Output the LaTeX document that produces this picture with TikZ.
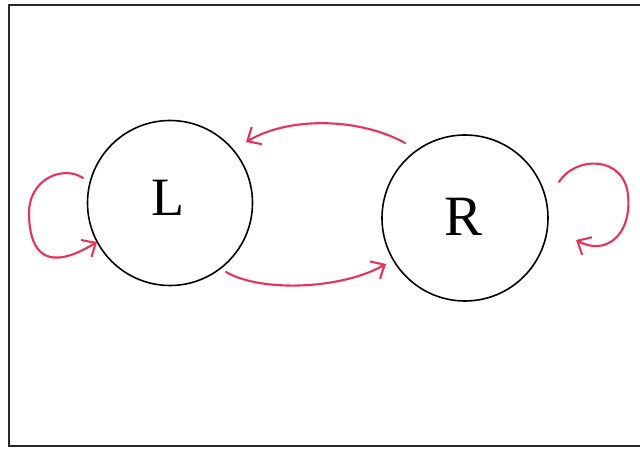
\documentclass[tikz,border=0pt]{standalone}
\usepackage{fontspec}
\setmainfont{Liberation Serif}
\usetikzlibrary{arrows.meta}
\definecolor{pen}{RGB}{232,50,88}
\definecolor{frame}{RGB}{40,40,40}
\tikzset{
  state/.style={circle,draw=black,line width=1.6pt,minimum size=165pt,inner sep=0pt},
  redarrow/.style={draw=pen,line width=2.1pt,line cap=round,-{Straight Barb[length=11pt,width=20pt,line width=2.1pt]}},
}
\begin{document}
\begin{tikzpicture}[x=1pt,y=-1pt]
\useasboundingbox (0,0) rectangle (640,449);
\draw[frame,line width=1.6pt] (640,5) -- (9,5) -- (9,446) -- (640,446);
\node[state] (L) at (170,203) {};
\node[state,minimum size=166pt] (R) at (465,218) {};
\node[font=\fontsize{54}{54}\selectfont] (Lt) at (168,198) {L};
\node[font=\fontsize{57}{57}\selectfont] (Rt) at (464,217) {R};
% top arrow R -> L
\coordinate (ts) at (405,143);
\coordinate (te) at (246,142);
\draw[redarrow] (ts) .. controls (360,118) and (290,116) .. (te);
% bottom arrow L -> R
\coordinate (bs) at (226,272);
\coordinate (be) at (386,264);
\draw[redarrow] (bs) .. controls (260,292) and (340,290) .. (be);
% left self-loop
\coordinate (ls) at (83,178);
\coordinate (le) at (97,242);
\draw[redarrow] (ls) .. controls (64,165) and (28,178) .. (29,215)
   .. controls (30,255) and (48,272) .. (le);
% right self-loop
\coordinate (rs) at (559,182);
\coordinate (re) at (576,240);
\draw[redarrow] (rs) .. controls (575,156) and (624,155) .. (628,195)
   .. controls (632,236) and (605,256) .. (re);
\end{tikzpicture}
\end{document}
